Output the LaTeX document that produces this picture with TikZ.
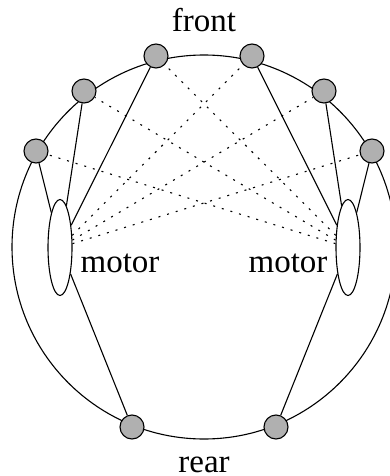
\documentclass[tikz,border=0pt]{standalone}
\usepackage{fontspec}
\setmainfont{Liberation Serif}
\usepackage{xcolor}
\usetikzlibrary{shapes.geometric}
\definecolor{motorgray}{HTML}{B0B0B0}
\tikzset{
  mount/.style={circle, draw, fill=motorgray, inner sep=0pt, minimum size=24pt},
  motorbox/.style={ellipse, draw, fill=white, inner sep=0pt, minimum width=24pt, minimum height=96pt},
  rim/.style={circle, draw, inner sep=0pt, minimum size=384pt},
  crossed/.style={dash pattern=on 2pt off 7pt},
  caption/.style={anchor=base, inner sep=0pt, font=\fontsize{33}{36}\selectfont}
}

\begin{document}
\begin{tikzpicture}[x=1pt, y=-1pt, line width=1.1pt]
    \clip (0,0) rectangle (390,476);
    \node[rim] (body) at (204,247) {};

    \node[mount] (fl1) at (156,56) {};
    \node[mount] (fl2) at (84,91) {};
    \node[mount] (fl3) at (36,151) {};
    \node[mount] (fr1) at (252,56) {};
    \node[mount] (fr2) at (324,91) {};
    \node[mount] (fr3) at (372,151) {};
    \node[mount] (rl) at (132,427) {};
    \node[mount] (rr) at (276,427) {};
    \node[motorbox] (ml) at (60,247.5) {};
    \node[motorbox] (mr) at (348,247.5) {};

    \node[caption] (front) at (204,32) {front};
    \node[caption] (rear) at (204,472.5) {rear};
    \node[caption] (lmotor) at (120,272) {motor};
    \node[caption] (rmotor) at (288,272) {motor};

    % same side
    \draw (ml) -- (fl1);
    \draw (ml) -- (fl2);
    \draw (ml) -- (fl3);
    \draw (ml) -- (rl);
    \draw (mr) -- (fr1);
    \draw (mr) -- (fr2);
    \draw (mr) -- (fr3);
    \draw (mr) -- (rr);

    % across
    \draw[crossed] (ml) -- (fr1);
    \draw[crossed] (ml) -- (fr2);
    \draw[crossed] (ml) -- (fr3);
    \draw[crossed] (mr) -- (fl1);
    \draw[crossed] (mr) -- (fl2);
    \draw[crossed] (mr) -- (fl3);
\end{tikzpicture}
\end{document}
